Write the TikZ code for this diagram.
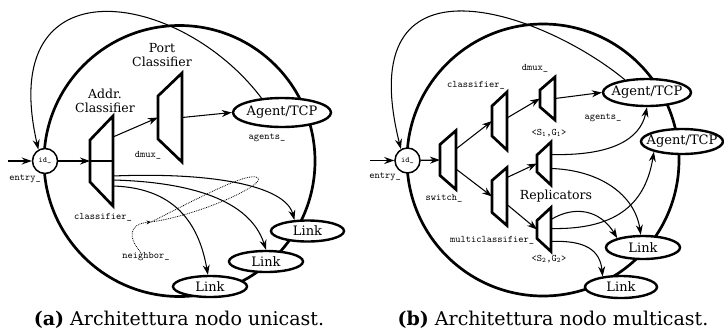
\documentclass[tikz,border=0pt]{standalone}
\usepackage{fontspec}
\setmainfont{DejaVu Serif}
\usetikzlibrary{arrows.meta,shapes.geometric}

% trapezoid drawn inside the box of a named node; #2 = how much the left side is shortened at each end
\newcommand\trapdraw[2]{%
  \draw[trapline] (#1.north east) -- (#1.south east)
    -- ([yshift=#2]#1.south west) -- ([yshift=-#2]#1.north west) -- cycle;}

\begin{document}
\begin{tikzpicture}[x=1pt,y=-1pt,
  bigring/.style={circle,draw,line width=2.7pt,inner sep=0pt,outer sep=0pt},
  idnode/.style={circle,draw,line width=1.5pt,fill=white,inner sep=0pt,minimum size=25pt,
    font=\ttfamily\fontsize{8}{8}\selectfont},
  oval/.style={ellipse,draw,line width=2.4pt,fill=white,inner sep=-8pt,
    font=\fontsize{13}{13}\selectfont},
  trapbox/.style={rectangle,inner sep=0pt,outer sep=0pt},
  trapline/.style={line width=2.7pt,line join=miter},
  tag/.style={font=\ttfamily\fontsize{10}{10}\selectfont,inner sep=0pt},
  title/.style={font=\fontsize{12.5}{14}\selectfont,align=center,inner sep=0pt},
  caption/.style={font=\fontsize{19}{20}\selectfont,inner sep=0pt},
  conn/.style={line width=1.05pt,-{Stealth[length=10pt,width=7pt]}},
  feed/.style={line width=1.3pt,-{Stealth[length=10pt,width=7pt]}},
  lasso/.style={densely dotted,line width=0.8pt}
]
\path[use as bounding box,fill=white] (0,0) rectangle (724,333);

% ================= unicast node =================
\node[bigring,minimum size=271pt] (ringA) at (179.5,161) {};
\node[idnode] (idA) at (45,161) {id\_};
\node[oval,minimum width=98pt,minimum height=29pt] (agentA) at (282,112.5) {Agent/TCP};
\node[oval,minimum width=73pt,minimum height=21pt] (linkA1) at (307.5,231) {Link};
\node[oval,minimum width=74pt,minimum height=21pt] (linkA2) at (266,261.5) {Link};
\node[oval,minimum width=74pt,minimum height=21pt] (linkA3) at (210,286.5) {Link};

\node[trapbox,minimum width=23pt,minimum height=90pt] (addr) at (101.5,161) {};
\trapdraw{addr}{24}
\draw[trapline] (addr.west) -- (addr.east);
\node[trapbox,minimum width=24pt,minimum height=89pt] (port) at (170,117.5) {};
\trapdraw{port}{23}

\node[title] (addrT) at (105,101) {Addr.\\Classifier};
\node[title] (portT) at (162,55) {Port\\Classifier};
\node[tag] (entA) at (25,179) {entry\_};
\node[tag] (dmuxA) at (148,155) {dmux\_};
\node[tag] (agA) at (267,138) {agents\_};
\node[tag] (clsA) at (103,217) {classifier\_};
\node[tag] (nbA) at (146,257) {neighbor\_};

\coordinate (inA) at (8,161);
\draw[feed] (inA) -- (idA);
\draw[feed] (idA) -- (addr.west);
\draw[conn] ([yshift=24pt]addr.east) -- (port.west);
\draw[conn] (port.east) -- (agentA.west);
\draw[conn] ([yshift=-15pt]addr.east) .. controls +(97,-4) and +(-9.4,-35) .. (linkA1.140);
\draw[conn] ([yshift=-19pt]addr.east) .. controls +(77,2) and +(-16,-50) .. (linkA2.north);
\draw[conn] ([yshift=-25pt]addr.east) .. controls +(67,2) and +(-8,-45) .. (linkA3.100);
\draw[conn] (agentA.145) .. controls (180,-10) and (-5,-40) .. (idA.120);

% neighbour list
\coordinate (tipA) at (151,222);
\coordinate (loopA) at (258,178);
\draw[lasso,-{Stealth[length=4.5pt,width=4pt]}] ([xshift=-5pt]nbA.north) .. controls (128,238) and (128,224) .. (tipA);
\draw[lasso] (tipA) .. controls (195,200) and (250,170) .. (loopA)
  .. controls (265,185) and (200,215) .. (tipA);

% ================= multicast node =================
\node[bigring,minimum size=272pt] (ringB) at (543,160) {};
\node[idnode] (idB) at (407.5,160.5) {id\_};
\node[oval,minimum width=88pt,minimum height=27pt] (agentB1) at (647,92.5) {Agent/TCP};
\node[oval,minimum width=82pt,minimum height=25pt] (agentB2) at (682,141.5) {Agent/TCP};
\node[oval,minimum width=74pt,minimum height=23pt] (linkB1) at (643,247.5) {Link};
\node[oval,minimum width=72pt,minimum height=22pt] (linkB2) at (621,287) {Link};

\node[trapbox,minimum width=16pt,minimum height=59pt] (sw) at (448,160) {};
\trapdraw{sw}{14}
\node[trapbox,minimum width=15pt,minimum height=58pt] (cls) at (499.5,121) {};
\trapdraw{cls}{14}
\node[trapbox,minimum width=15pt,minimum height=58pt] (mcls) at (499.5,196.5) {};
\trapdraw{mcls}{13}
\node[trapbox,minimum width=15pt,minimum height=43pt] (dmux) at (547.5,98.5) {};
\trapdraw{dmux}{13}
\node[trapbox,minimum width=14pt,minimum height=43pt] (rep1) at (544,163.5) {};
\trapdraw{rep1}{13}
\node[trapbox,minimum width=14pt,minimum height=44pt] (rep2) at (544,229.5) {};
\trapdraw{rep2}{13}

\node[tag] (entB) at (385,177) {entry\_};
\node[tag] (swB) at (444,198) {switch\_};
\node[tag] (clsB) at (476,85) {classifier\_};
\node[tag] (dmuxB) at (535,68) {dmux\_};
\node[tag] (agB) at (603,118) {agents\_};
\node[tag] (sg1) at (549,133) {<S\textsubscript{1},G\textsubscript{1}>};
\node[tag] (mclsB) at (492,240) {multiclassifier\_};
\node[tag] (sg2) at (549,259) {<S\textsubscript{2},G\textsubscript{2}>};
\node[title] (repT) at (556,196) {Replicators};

\coordinate (inB) at (370,160.5);
\draw[feed] (inB) -- (idB);
\draw[feed] (idB) -- (sw.west);
\draw[conn] ([yshift=11pt]sw.east) -- (cls.west);
\draw[conn] ([yshift=-9pt]sw.east) -- (mcls.west);
\draw[conn] ([yshift=3pt]cls.east) -- (dmux.west);
\draw[conn] ([yshift=19pt]mcls.east) -- (rep1.west);
\draw[conn] ([yshift=-8pt]mcls.east) -- (rep2.west);
\draw[conn] (dmux.east) -- (agentB1.west);
\draw[conn] ([yshift=9pt]rep1.east) .. controls +(59,1.5) and +(-7,33) .. (agentB1.south);
\draw[conn] ([yshift=-5pt]rep1.east) .. controls +(49,1.5) and +(-6,-40) .. (linkB1.100);
\draw[conn] ([yshift=10pt]rep2.east) .. controls +(24,-14.5) and +(-17,-28) .. (linkB1.160);
\draw[conn] ([yshift=1pt]rep2.east) .. controls +(69,1.5) and +(-8,49) .. (agentB2.200);
\draw[conn] ([yshift=-12pt]rep2.east) .. controls +(34,-1.5) and +(-2.6,-26.4) .. (linkB2.150);
\draw[conn] (agentB1.150) .. controls (540,10) and (350,-55) .. (idB.120);

% ================= captions =================
\node[caption] (capA) at (179,320) {\textbf{(a)} Architettura nodo unicast.};
\node[caption] (capB) at (553,320) {\textbf{(b)} Architettura nodo multicast.};
\end{tikzpicture}
\end{document}
